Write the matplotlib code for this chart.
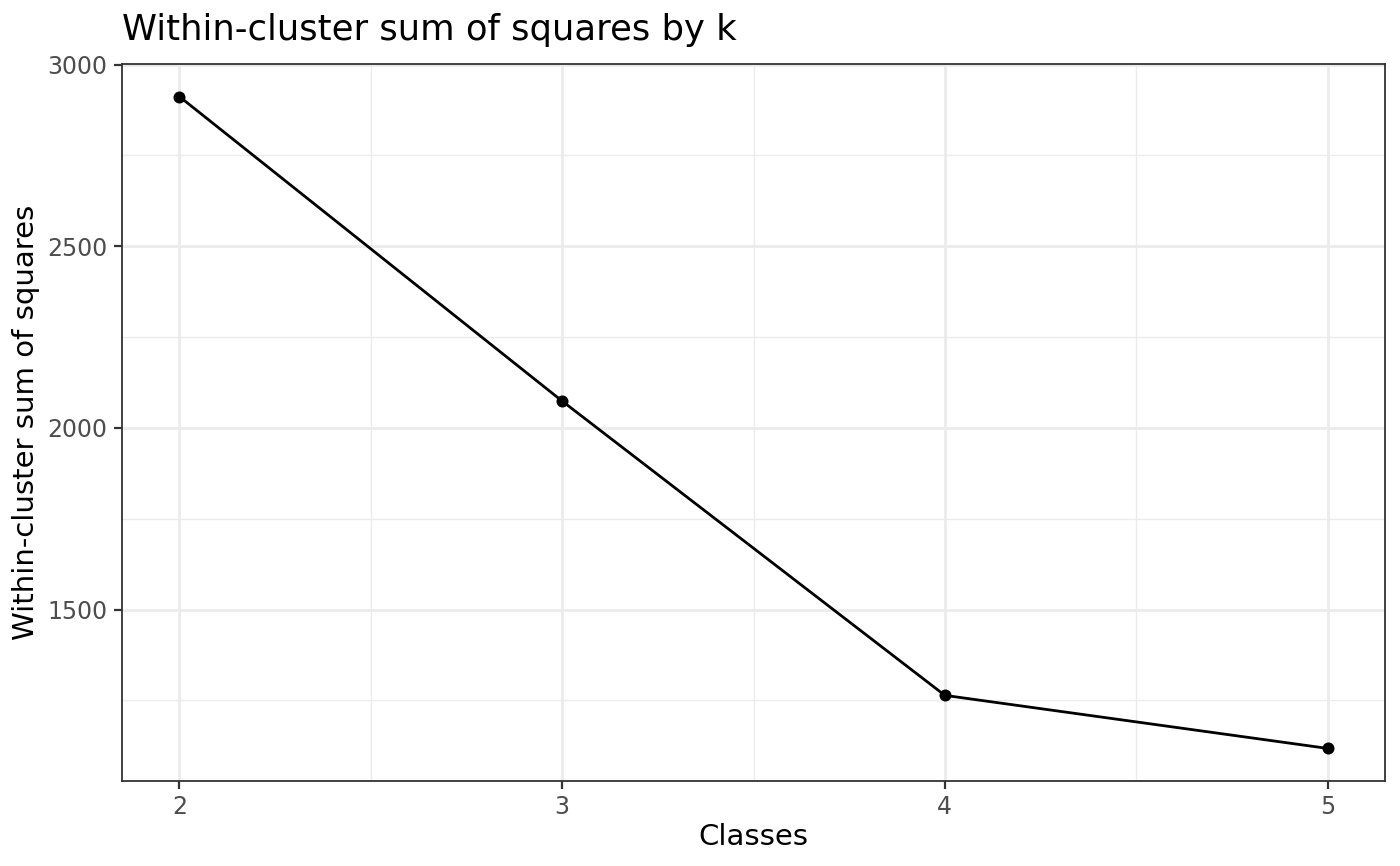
import matplotlib
matplotlib.use("Agg")
import matplotlib.pyplot as plt
import numpy as np

k = [2, 3, 4, 5]
wss = [2912, 2074, 1264, 1118]
yticks = [1500, 2000, 2500, 3000]

plt.rcParams['font.family'] = ['DejaVu Sans']
fig = plt.figure(figsize=(14, 8.66), dpi=100)
ax = fig.add_axes([122/1400, 1-781/866, (1385-122)/1400, (781-64)/866])

ax.plot(k, wss, color='black', lw=2.0, zorder=3)
ax.scatter(k, wss, color='black', s=75, zorder=4, linewidths=0)

xr = max(k) - min(k)
ax.set_xlim(min(k) - 0.05*xr, max(k) + 0.05*xr)
yr = max(wss) - min(wss)
ax.set_ylim(min(wss) - 0.05*yr, max(wss) + 0.05*yr)

ax.set_xticks(k)
ax.set_yticks(yticks)
ax.set_xticks([2.5, 3.5, 4.5], minor=True)
ax.set_yticks([1250, 1750, 2250, 2750], minor=True)
ax.grid(True, which='major', color='#EBEBEB', lw=2.0)
ax.grid(True, which='minor', color='#EBEBEB', lw=1.0)
ax.set_axisbelow(True)
for s in ax.spines.values():
    s.set_color('#333333')
    s.set_linewidth(1.3)
ax.tick_params(which='major', length=5.8, color='#333333', labelsize=17, labelcolor='#4D4D4D', width=1.6, pad=4.5)
ax.tick_params(which='minor', length=0)
ax.set_xlabel('Classes', fontsize=21, labelpad=3)
ax.set_ylabel('Within-cluster sum of squares', fontsize=21, labelpad=5)
ax.set_title('Within-cluster sum of squares by k', fontsize=25.5, loc='left', pad=17)

fig.savefig('out.png', dpi=100)
